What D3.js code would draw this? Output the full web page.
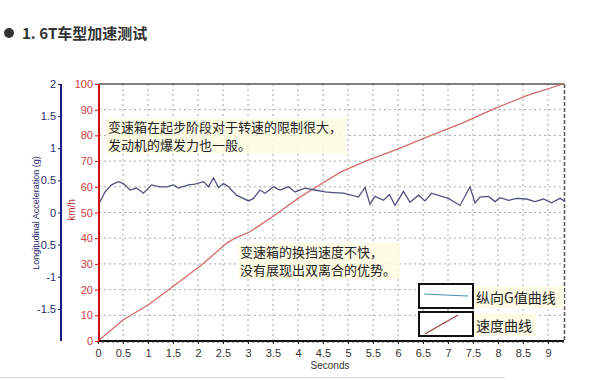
<!DOCTYPE html>
<html><head><meta charset="utf-8">
<script src="https://cdn.jsdelivr.net/npm/d3@7"></script>
<style>body{margin:0;background:#fff}svg{display:block}</style>
</head><body>
<svg id="c" width="600" height="380"></svg>
<script>
const speedTime = [0, 0.5, 1.0, 1.54, 2.07, 2.57, 2.74, 3.04, 3.54, 4.0, 4.37, 4.87, 5.4, 5.94, 6.6, 7.27, 7.94, 8.6, 9.3];
const speedVals = [0, 8.2, 14, 21.8, 29.6, 38, 40, 42.5, 49, 55.5, 60, 65.9, 70.4, 74.3, 79.5, 84.7, 90.5, 95.7, 100];
const gTime = [0.01,0.14,0.27,0.41,0.51,0.64,0.77,0.91,1.07,1.24,1.37,1.51,1.61,1.81,1.94,2.11,2.21,2.31,2.41,2.51,2.61,2.77,3.01,3.11,3.24,3.34,3.51,3.64,3.81,3.94,4.14,4.34,4.54,4.71,4.91,5.21,5.34,5.44,5.54,5.71,5.83,5.94,6.11,6.24,6.41,6.54,6.67,6.84,7.01,7.24,7.44,7.54,7.64,7.81,7.94,8.04,8.21,8.37,8.57,8.74,8.91,9.07,9.24,9.34];
const gVals = [0.12,0.32,0.43,0.48,0.45,0.35,0.38,0.30,0.43,0.40,0.40,0.43,0.38,0.43,0.44,0.48,0.40,0.54,0.39,0.45,0.40,0.27,0.18,0.22,0.35,0.30,0.40,0.35,0.40,0.32,0.38,0.35,0.32,0.31,0.30,0.24,0.39,0.13,0.25,0.19,0.28,0.11,0.33,0.16,0.27,0.18,0.30,0.26,0.22,0.11,0.40,0.15,0.24,0.25,0.17,0.23,0.19,0.22,0.21,0.17,0.21,0.15,0.22,0.17];
const xTicks = [0,0.5,1,1.5,2,2.5,3,3.5,4,4.5,5,5.5,6,6.5,7,7.5,8,8.5,9];
const speedTicks = [0,10,20,30,40,50,60,70,80,90,100];
const gTicks = [-1.5,-1,-0.5,0,0.5,1,1.5,2];
const title = "1. 6T车型加速测试";
const note1 = ["变速箱在起步阶段对于转速的限制很大，", "发动机的爆发力也一般。"];
const note2 = ["变速箱的换挡速度不快，", "没有展现出双离合的优势。"];
const legendLabels = ["纵向G值曲线", "速度曲线"];

const svg = d3.select("#c");
const x = d3.scaleLinear().domain([0, 9.32]).range([98, 564]);
const yS = d3.scaleLinear().domain([0, 100]).range([341, 84]);
const yG = d3.scaleLinear().domain([-2, 2]).range([341, 84]);
const font = "Arial, 'Liberation Sans', sans-serif";
const cjk = "'Noto Sans CJK SC', sans-serif";
const fmt = d => String(d);

// title
svg.append("circle").attr("cx", 9).attr("cy", 33).attr("r", 5).attr("fill", "#333");
svg.append("text").attr("x", 22).attr("y", 39).text(title)
  .attr("font-family", "'Noto Sans CJK SC', serif").attr("font-weight", "bold").attr("font-size", 15).attr("fill", "#333");

// grid
const grid = svg.append("g");
grid.selectAll("line.v").data(xTicks.slice(1)).join("line")
  .attr("x1", d => x(d)).attr("x2", d => x(d)).attr("y1", 84).attr("y2", 341)
  .attr("stroke", "#aaa").attr("stroke-dasharray", "2,3");
grid.selectAll("line.h").data(speedTicks.slice(1, -1)).join("line")
  .attr("x1", 99).attr("x2", 564).attr("y1", d => yS(d)).attr("y2", d => yS(d))
  .attr("stroke", "#aaa").attr("stroke-dasharray", "2,3");
svg.append("line").attr("x1", 99).attr("x2", 564).attr("y1", 84).attr("y2", 84).attr("stroke", "#555").attr("stroke-width", 1.5);
svg.append("line").attr("x1", 564.5).attr("x2", 564.5).attr("y1", 84).attr("y2", 341).attr("stroke", "#555").attr("stroke-width", 1.5).attr("stroke-dasharray", "4,2");

// annotations
function note(lines, x0, y0) {
  const g = svg.append("g");
  const fs = 13;
  const w = d3.max(lines, l => l.length) * fs + 6;
  g.append("rect").attr("x", x0 - 2).attr("y", y0 - 9).attr("width", w).attr("height", 36).attr("fill", "#fffbe0").attr("opacity", 0.85);
  lines.forEach((l, i) => g.append("text").attr("x", x0).attr("y", y0 + i * 18).attr("dy", "0.35em")
    .text(l).attr("font-family", cjk).attr("font-size", fs).attr("fill", "#222"));
}
note(note1, 108, 127);
note(note2, 240, 252);

// lines
svg.append("path").datum(speedTime.map((t, i) => [t, speedVals[i]]))
  .attr("d", d3.line().x(d => x(d[0])).y(d => yS(d[1])))
  .attr("fill", "none").attr("stroke", "#d36a6a").attr("stroke-width", 1.3);
svg.append("path").datum(gTime.map((t, i) => [t, gVals[i]]))
  .attr("d", d3.line().x(d => x(d[0])).y(d => yG(d[1])))
  .attr("fill", "none").attr("stroke", "#50527e").attr("stroke-width", 1.3);

// x axis
const xa = svg.append("g").attr("transform", "translate(0,341)")
  .call(d3.axisBottom(x).tickValues(xTicks).tickFormat(fmt).tickSize(3).tickPadding(5));
xa.select(".domain").attr("stroke", "#111").attr("stroke-width", 2).attr("d", "M98,0H564");
xa.selectAll("text").attr("font-family", font).attr("font-size", 11).attr("fill", "#333");
xa.selectAll("line").attr("stroke", "#222");
svg.append("g").attr("transform", "translate(0,341)")
  .selectAll("line").data(d3.range(0, 94).map(i => i / 10)).join("line")
  .attr("x1", d => x(d)).attr("x2", d => x(d)).attr("y1", 0).attr("y2", 2).attr("stroke", "#333");
svg.append("text").attr("x", 330).attr("y", 369).attr("text-anchor", "middle").text("Seconds")
  .attr("font-family", font).attr("font-size", 10).attr("fill", "#333");

// speed axis
const ya = svg.append("g").attr("transform", "translate(99,0)")
  .call(d3.axisLeft(yS).tickValues(speedTicks).tickFormat(fmt).tickSize(4).tickPadding(2));
ya.select(".domain").attr("stroke", "#d01010").attr("stroke-width", 2).attr("d", "M0,84V341");
ya.selectAll("line").attr("stroke", "#d01010");
ya.selectAll("text").attr("font-family", font).attr("font-size", 11).attr("fill", "#d04040");
svg.append("text").attr("transform", "translate(75,210) rotate(-90)").attr("text-anchor", "middle").text("km/h")
  .attr("font-family", font).attr("font-size", 10).attr("fill", "#c03030");

// G axis
const ga = svg.append("g").attr("transform", "translate(61,0)")
  .call(d3.axisLeft(yG).tickValues(gTicks).tickFormat(fmt).tickSize(3).tickPadding(2));
ga.select(".domain").attr("stroke", "#1a1a80").attr("stroke-width", 2).attr("d", "M0,84V341");
ga.selectAll("line").attr("stroke", "#1a1a80");
ga.selectAll("text").attr("font-family", font).attr("font-size", 11).attr("fill", "#2a2a70");
svg.append("text").attr("transform", "translate(39,213) rotate(-90)").attr("text-anchor", "middle").text("Longitudinal Acceleration (g)")
  .attr("font-family", font).attr("font-size", 9).attr("fill", "#2a2a70");

// legend
const lg = svg.append("g");
[[284, "#4a8fb0"], [312, "#9a4040"]].forEach((d, i) => {
  lg.append("rect").attr("x", 419).attr("y", d[0]).attr("width", 54).attr("height", 24)
    .attr("fill", "#fff").attr("stroke", "#111").attr("stroke-width", 2);
  lg.append("rect").attr("x", 474).attr("y", d[0] + 2).attr("width", legendLabels[i].length * 14 + 6).attr("height", 22).attr("fill", "#fffbe0").attr("opacity", 0.85);
  lg.append("text").attr("x", 476).attr("y", d[0] + 14).attr("dy", "0.35em").text(legendLabels[i])
    .attr("font-family", cjk).attr("font-size", 14).attr("fill", "#222");
});
lg.append("path").attr("d", "M424,294L445,295L468,296").attr("fill", "none").attr("stroke", "#4a8fb0").attr("stroke-width", 1.2);
lg.append("path").attr("d", "M425,334L458,315").attr("fill", "none").attr("stroke", "#9a4040").attr("stroke-width", 1.2);

// bottom separator
svg.append("line").attr("x1", 0).attr("x2", 505).attr("y1", 377.5).attr("y2", 377.5).attr("stroke", "#ddd");
</script>
</body></html>
